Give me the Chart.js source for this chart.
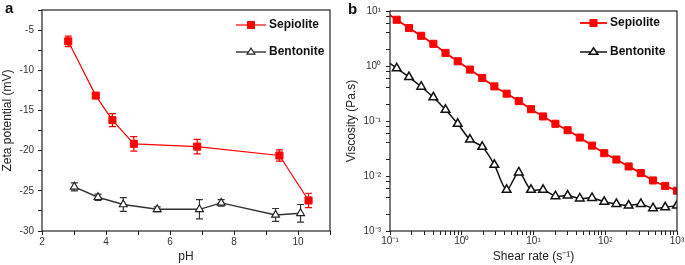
<!DOCTYPE html>
<html>
<head>
<meta charset="utf-8">
<script src="https://cdn.jsdelivr.net/npm/chart.js@4.4.0/dist/chart.umd.min.js"></script>
<style>
  html, body { margin: 0; padding: 0; background: #fff; }
  #wrap { position: relative; width: 685px; height: 265px; }
  .panel { position: absolute; top: 0; }
  #pa { left: 0; }
  #pb { left: 340px; }
</style>
</head>
<body>
<div id="wrap">
  <div class="panel" id="pa"><canvas id="zeta" width="340" height="265"></canvas></div>
  <div class="panel" id="pb"><canvas id="visc" width="345" height="265"></canvas></div>
</div>
<script>
// panel a: zeta potential vs pH
const sepPH = [2.82, 3.68, 4.2, 4.87, 6.85, 9.42, 10.33];
const sepZeta = [-6.4, -13.15, -16.2, -19.15, -19.5, -20.6, -26.2];
const sepZetaErr = [0.65, 0.25, 0.8, 0.9, 0.9, 0.7, 0.9];
const benPH = [3.01, 3.75, 4.54, 5.6, 6.92, 7.6, 9.3, 10.08];
const benZeta = [-24.5, -25.8, -26.7, -27.3, -27.3, -26.5, -28.0, -27.8];
const benZetaErr = [0.5, 0.4, 0.85, 0.3, 1.2, 0.4, 0.8, 1.1];

// panel b: viscosity vs shear rate (first point sits just left of the axis)
const shearRate = [0.084, 0.124, 0.184, 0.272, 0.402, 0.594, 0.879, 1.30, 1.93, 2.85, 4.22, 6.24, 9.23,
  13.6, 20.2, 29.9, 44.2, 65.4, 96.8, 143, 212, 313, 463, 685, 1000];
const sepVisc = [9.8, 6.93, 4.9, 3.54, 2.53, 1.73, 1.22, 0.86, 0.605, 0.426, 0.314, 0.23, 0.164,
  0.121, 0.089, 0.068, 0.050, 0.0357, 0.026, 0.0199, 0.0149, 0.0113, 0.0083, 0.0066, 0.0054];
const benVisc = [1.3, 0.91, 0.63, 0.42, 0.27, 0.16, 0.089, 0.046, 0.034, 0.016, 0.0056, 0.0116, 0.0056,
  0.0056, 0.0043, 0.0044, 0.0039, 0.0040, 0.0034, 0.0031, 0.0029, 0.0031, 0.0026, 0.0027, 0.0029];

const seriesNames = ['Sepiolite', 'Bentonite'];
const sup = { '-3': '\u207B\u00B3', '-2': '\u207B\u00B2', '-1': '\u207B\u00B9', '0': '\u2070', '1': '\u00B9', '2': '\u00B2', '3': '\u00B3' };

const RED = '#ff0000';
const DARK = '#222222';
const FONT = 'Liberation Sans, Arial, sans-serif';

function pts(xs, ys) {
  return xs.map((x, i) => ({ x: x, y: ys[i] }));
}

// error bars, drawn under the markers
const errorBars = {
  id: 'errorBars',
  beforeDatasetsDraw(chart) {
    const ctx = chart.ctx;
    const xs = chart.scales.x, ys = chart.scales.y;
    chart.data.datasets.forEach((ds) => {
      if (!ds.errors) return;
      ctx.save();
      ctx.strokeStyle = ds.borderColor;
      ctx.lineWidth = 1.2;
      ds.data.forEach((p, i) => {
        const px = xs.getPixelForValue(p.x);
        const top = ys.getPixelForValue(p.y + ds.errors[i]);
        const bot = ys.getPixelForValue(p.y - ds.errors[i]);
        ctx.beginPath();
        ctx.moveTo(px, top); ctx.lineTo(px, bot);
        ctx.moveTo(px - 3.5, top); ctx.lineTo(px + 3.5, top);
        ctx.moveTo(px - 3.5, bot); ctx.lineTo(px + 3.5, bot);
        ctx.stroke();
      });
      ctx.restore();
    });
  }
};

// frame, panel letter and legend
const decor = {
  id: 'decor',
  afterDraw(chart, args, opts) {
    const ctx = chart.ctx;
    const a = chart.chartArea;
    ctx.save();
    ctx.strokeStyle = '#222';
    ctx.lineWidth = 1.2;
    ctx.strokeRect(a.left, a.top, a.right - a.left, a.bottom - a.top);

    ctx.fillStyle = '#111';
    ctx.font = 'bold 15px ' + FONT;
    ctx.textBaseline = 'middle';
    ctx.textAlign = 'left';
    ctx.fillText(opts.letter, opts.letterX, opts.letterY);

    chart.data.datasets.forEach((ds, i) => {
      const y = opts.legendY[i];
      ctx.strokeStyle = ds.borderColor;
      ctx.lineWidth = ds.borderWidth;
      ctx.beginPath();
      ctx.moveTo(opts.legendX, y);
      ctx.lineTo(opts.legendX + opts.lineLen, y);
      ctx.stroke();
      const cx = opts.legendX + opts.lineLen / 2;
      const r = ds.pointRadius;
      ctx.lineWidth = ds.pointBorderWidth;
      ctx.fillStyle = ds.pointBackgroundColor;
      ctx.strokeStyle = ds.pointBorderColor;
      ctx.beginPath();
      if (ds.pointStyle === 'rect') {
        const s = r * Math.SQRT1_2;
        ctx.rect(cx - s, y - s, 2 * s, 2 * s);
      } else {
        const h = r * 0.75;
        ctx.moveTo(cx, y - h - 0.5);
        ctx.lineTo(cx + r * 0.866, y + h * 0.6);
        ctx.lineTo(cx - r * 0.866, y + h * 0.6);
        ctx.closePath();
      }
      ctx.fill();
      ctx.stroke();
      ctx.fillStyle = '#111';
      ctx.font = 'bold 12px ' + FONT;
      ctx.fillText(seriesNames[i], opts.legendX + opts.lineLen + 3, y);
    });
    ctx.restore();
  }
};

Chart.defaults.font.family = FONT;
Chart.defaults.color = '#222';

new Chart(document.getElementById('zeta'), {
  type: 'line',
  data: {
    datasets: [
      {
        label: seriesNames[0],
        data: pts(sepPH, sepZeta),
        errors: sepZetaErr,
        borderColor: RED,
        borderWidth: 1.2,
        pointStyle: 'rect',
        pointRadius: 5,
        pointBackgroundColor: RED,
        pointBorderColor: RED,
        pointBorderWidth: 1,
        tension: 0
      },
      {
        label: seriesNames[1],
        data: pts(benPH, benZeta),
        errors: benZetaErr,
        borderColor: '#333',
        borderWidth: 1.4,
        pointStyle: 'triangle',
        pointRadius: 4.5,
        pointBackgroundColor: '#fff',
        pointBorderColor: '#222',
        pointBorderWidth: 1.2,
        tension: 0
      }
    ]
  },
  options: {
    responsive: false,
    animation: false,
    layout: { padding: { top: 2, right: 10, left: 0, bottom: 0 } },
    plugins: {
      legend: { display: false },
      tooltip: { enabled: false },
      decor: { letter: 'a', letterX: 5, letterY: 9, legendX: 236, lineLen: 30, legendY: [25, 52] }
    },
    scales: {
      x: {
        type: 'linear', min: 2, max: 11,
        afterFit(s) { s.height = 34; },
        border: { display: false },
        grid: { drawOnChartArea: false, drawTicks: true, tickLength: 4, color: '#222' },
        ticks: {
          stepSize: 1, autoSkip: false, padding: 1, maxRotation: 0,
          font: { size: 10 }, color: '#333',
          callback: (v) => (v % 2 === 0 && v <= 10 ? String(v) : '')
        },
        title: { display: true, text: 'pH', font: { size: 12 }, padding: { top: 0, bottom: 1 }, color: '#222' }
      },
      y: {
        type: 'linear', min: -30, max: -2.5,
        afterFit(s) { s.width = 42; },
        border: { display: false },
        grid: { drawOnChartArea: false, drawTicks: true, tickLength: 4, color: '#222' },
        ticks: {
          stepSize: 2.5, autoSkip: false, padding: 4,
          font: { size: 10 }, color: '#333',
          callback: (v) => (v % 5 === 0 ? String(v) : '')
        },
        title: { display: true, text: 'Zeta potential (mV)', font: { size: 12 }, padding: { top: 0, bottom: 0 }, color: '#222' }
      }
    }
  },
  plugins: [errorBars, decor]
});

function keepMantissa(list) {
  return function (scale) {
    scale.ticks = scale.ticks.filter((t) => {
      const e = Math.floor(Math.log10(t.value) + 1e-9);
      const m = Math.round(t.value / Math.pow(10, e) * 1000) / 1000;
      return list.indexOf(m) !== -1;
    });
  };
}

function powLabel(v) {
  const l = Math.log10(v);
  const r = Math.round(l);
  return Math.abs(l - r) < 1e-6 ? '10' + sup[String(r)] : '';
}

new Chart(document.getElementById('visc'), {
  type: 'line',
  data: {
    datasets: [
      {
        label: seriesNames[0],
        data: pts(shearRate, sepVisc),
        borderColor: RED,
        borderWidth: 1.8,
        pointStyle: 'rect',
        pointRadius: 5,
        pointBackgroundColor: RED,
        pointBorderColor: RED,
        pointBorderWidth: 1,
        tension: 0.3
      },
      {
        label: seriesNames[1],
        data: pts(shearRate, benVisc),
        borderColor: '#111',
        borderWidth: 1.5,
        pointStyle: 'triangle',
        pointRadius: 5,
        pointBackgroundColor: '#fff',
        pointBorderColor: '#111',
        pointBorderWidth: 1.5,
        tension: 0.3
      }
    ]
  },
  options: {
    responsive: false,
    animation: false,
    layout: { padding: { top: 11, right: 8, left: 0, bottom: 0 } },
    plugins: {
      legend: { display: false },
      tooltip: { enabled: false },
      decor: { letter: 'b', letterX: 8, letterY: 10, legendX: 240, lineLen: 27, legendY: [23, 52] }
    },
    scales: {
      x: {
        type: 'logarithmic', min: 0.1, max: 1000,
        afterFit(s) { s.height = 34; },
        afterBuildTicks: keepMantissa([1, 2, 3, 4, 5, 6, 7, 8, 9, 10]),
        border: { display: false },
        grid: { drawOnChartArea: false, drawTicks: true, tickLength: 4, color: '#222' },
        ticks: {
          autoSkip: false, padding: 0, maxRotation: 0,
          font: { size: 10 }, color: '#333',
          callback: powLabel
        },
        title: { display: true, text: 'Shear rate (s\u207B\u00B9)', font: { size: 12 }, padding: { top: 0, bottom: 1 }, color: '#222' }
      },
      y: {
        type: 'logarithmic', min: 0.001, max: 10,
        afterFit(s) { s.width = 50; },
        afterBuildTicks: keepMantissa([1, 2, 4, 6, 8, 10]),
        border: { display: false },
        grid: { drawOnChartArea: false, drawTicks: true, tickLength: 4, color: '#222' },
        ticks: {
          autoSkip: false, padding: 5,
          font: { size: 10 }, color: '#333',
          callback: powLabel
        },
        title: { display: true, text: 'Viscosity (Pa.s)', font: { size: 12 }, padding: { top: 4, bottom: 0 }, color: '#222' }
      }
    }
  },
  plugins: [decor]
});
</script>
</body>
</html>
